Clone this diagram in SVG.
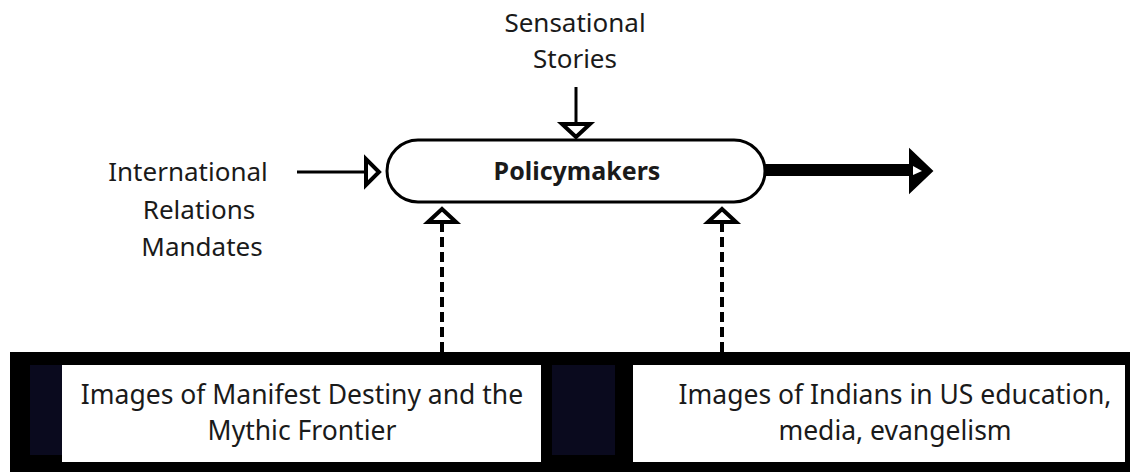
<svg xmlns="http://www.w3.org/2000/svg" width="1130" height="472" viewBox="0 0 1130 472">
  <style>
    .lbl { font-family: "Noto Sans", "Open Sans", "Liberation Sans", sans-serif; font-size: 26px; fill: #1a1a1a; text-anchor: middle; }
    .box { font-size: 26.5px; }
    .bold { font-weight: bold; font-size: 25px; }
    .line { stroke: #000; stroke-width: 3; fill: none; }
    .dash { stroke: #000; stroke-width: 4; fill: none; stroke-dasharray: 10 5; }
    .head { stroke: #000; stroke-width: 4; fill: #fff; stroke-linejoin: miter; }
  </style>
  <rect width="1130" height="472" fill="#fff"/>

  <!-- bottom band holding the two source boxes -->
  <g id="band">
    <rect x="10" y="352" width="1120" height="120" fill="#000"/>
    <rect x="30" y="365" width="32" height="90" fill="#0a0a1e"/>
    <rect x="552" y="365" width="63" height="90" fill="#0a0a1e"/>
  </g>

  <g id="node-manifest">
    <rect x="62" y="365" width="479" height="97" fill="#fff"/>
    <text class="lbl box" x="302" y="404">Images of Manifest Destiny and the</text>
    <text class="lbl box" x="302" y="440">Mythic Frontier</text>
  </g>

  <g id="node-indians">
    <rect x="633" y="365" width="492" height="97" fill="#fff"/>
    <text class="lbl box" x="895" y="404">Images of Indians in US education,</text>
    <text class="lbl box" x="895" y="440">media, evangelism</text>
  </g>

  <g id="node-sensational">
    <text class="lbl" x="575" y="32">Sensational</text>
    <text class="lbl" x="575" y="68">Stories</text>
  </g>

  <g id="node-international">
    <text class="lbl" x="188" y="181">International</text>
    <text class="lbl" x="199" y="219">Relations</text>
    <text class="lbl" x="202" y="256">Mandates</text>
  </g>

  <g id="node-policymakers">
    <rect x="387" y="140" width="378" height="62" rx="31" ry="31" fill="#fff" stroke="#000" stroke-width="3"/>
    <text class="lbl bold" x="577" y="180">Policymakers</text>
  </g>

  <g id="connectors">
    <!-- Sensational Stories -> Policymakers -->
    <line class="line" x1="576" y1="87" x2="576" y2="124"/>
    <path class="head" d="M562 124 L590 124 L576 137 Z"/>

    <!-- International Relations Mandates -> Policymakers -->
    <line class="line" x1="297" y1="172" x2="366" y2="172"/>
    <path class="head" d="M366 159 L366 185 L379 172 Z"/>

    <!-- Manifest Destiny images -> Policymakers -->
    <line class="dash" x1="442" y1="352" x2="442" y2="222"/>
    <path class="head" d="M428 222 L456 222 L442 209 Z"/>

    <!-- Indian images -> Policymakers -->
    <line class="dash" x1="722" y1="352" x2="722" y2="222"/>
    <path class="head" d="M708 222 L736 222 L722 209 Z"/>

    <!-- Policymakers output -->
    <line x1="765" y1="170" x2="912" y2="170" stroke="#000" stroke-width="12"/>
    <path d="M910 150 L932 171 L910 192 Z" fill="#000" stroke="#000" stroke-width="2" stroke-linejoin="miter"/>
    <path d="M913 166 L922 171 L913 175 Z" fill="#fff"/>
  </g>
</svg>
